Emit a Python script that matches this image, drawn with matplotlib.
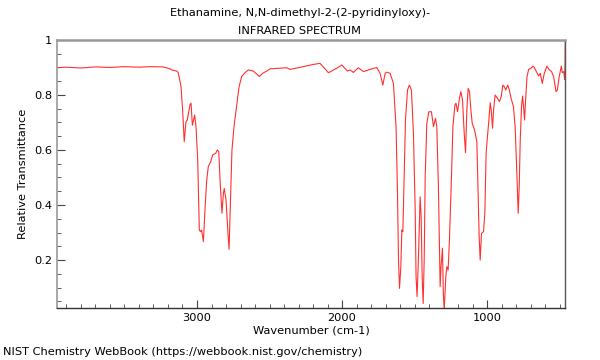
import matplotlib
matplotlib.use("Agg")
import matplotlib.pyplot as plt
import numpy as np

# spectrum (wavenumber in cm-1, relative transmittance)
wavenumber = [3965, 3900, 3800, 3700, 3600, 3500, 3400, 3324, 3232, 3186, 3174, 3140, 3129,
              3110, 3099, 3088, 3076, 3067, 3048, 3041, 3032, 3016, 3007, 2995, 2984, 2975,
              2968, 2956, 2945, 2933, 2922, 2906, 2892, 2871, 2860, 2850, 2841, 2828, 2818,
              2812, 2800, 2788, 2779, 2768, 2759, 2745, 2726, 2710, 2692, 2669, 2646, 2612,
              2588, 2570, 2547, 2519, 2497, 2440, 2381, 2359, 2320, 2267, 2198, 2152, 2094,
              2037, 2002, 1963, 1945, 1922, 1888, 1853, 1819, 1761, 1738, 1719, 1703, 1693,
              1669, 1646, 1628, 1618, 1611, 1604, 1595, 1588, 1581, 1572, 1563, 1549, 1536,
              1522, 1508, 1496, 1490, 1483, 1474, 1462, 1455, 1448, 1441, 1434, 1427, 1416,
              1402, 1384, 1370, 1356, 1347, 1336, 1324, 1318, 1308, 1302, 1296, 1285, 1278,
              1269, 1260, 1248, 1236, 1222, 1215, 1204, 1191, 1181, 1170, 1158, 1149, 1140,
              1131, 1122, 1112, 1103, 1087, 1071, 1062, 1055, 1048, 1039, 1025, 1016, 1007,
              998, 988, 979, 972, 963, 956, 945, 929, 915, 903, 892, 881, 872, 858, 847, 835,
              819, 807, 796, 786, 779, 772, 763, 756, 749, 742, 735, 725, 714, 698, 684, 675,
              661, 645, 634, 620, 606, 588, 574, 556, 542, 525, 516, 505, 495, 489, 482, 472,
              466, 463, 461]
transmittance = [0.899, 0.901, 0.898, 0.902, 0.900, 0.903, 0.901, 0.903, 0.902, 0.895, 0.891,
                 0.887, 0.881, 0.830, 0.745, 0.630, 0.703, 0.709, 0.766, 0.770, 0.690, 0.727,
                 0.685, 0.564, 0.309, 0.303, 0.309, 0.267, 0.382, 0.490, 0.540, 0.557, 0.582,
                 0.588, 0.600, 0.594, 0.490, 0.370, 0.443, 0.460, 0.418, 0.309, 0.239, 0.443,
                 0.600, 0.685, 0.764, 0.830, 0.867, 0.881, 0.891, 0.887, 0.876, 0.867, 0.879,
                 0.887, 0.895, 0.897, 0.899, 0.893, 0.897, 0.903, 0.911, 0.915, 0.881, 0.897,
                 0.909, 0.887, 0.891, 0.882, 0.899, 0.885, 0.891, 0.900, 0.879, 0.836, 0.879,
                 0.883, 0.879, 0.842, 0.685, 0.443, 0.200, 0.097, 0.176, 0.309, 0.303, 0.503,
                 0.709, 0.818, 0.836, 0.818, 0.660, 0.382, 0.139, 0.067, 0.200, 0.430, 0.357,
                 0.139, 0.042, 0.200, 0.503, 0.697, 0.739, 0.739, 0.685, 0.715, 0.685, 0.467,
                 0.103, 0.176, 0.243, 0.079, 0.020, 0.139, 0.176, 0.164, 0.273, 0.467, 0.685,
                 0.764, 0.770, 0.739, 0.788, 0.812, 0.782, 0.660, 0.590, 0.745, 0.824, 0.812,
                 0.745, 0.697, 0.673, 0.630, 0.443, 0.285, 0.200, 0.297, 0.303, 0.370, 0.588,
                 0.648, 0.709, 0.772, 0.745, 0.679, 0.745, 0.800, 0.788, 0.776, 0.794, 0.836,
                 0.830, 0.818, 0.836, 0.818, 0.788, 0.758, 0.685, 0.527, 0.370, 0.467, 0.636,
                 0.758, 0.796, 0.758, 0.709, 0.782, 0.867, 0.893, 0.897, 0.905, 0.900, 0.885,
                 0.869, 0.879, 0.842, 0.879, 0.905, 0.893, 0.885, 0.867, 0.812, 0.818, 0.861,
                 0.888, 0.905, 0.881, 0.885, 0.857, 0.909, 1.05]

title_lines = ["Ethanamine, N,N-dimethyl-2-(2-pyridinyloxy)-", "INFRARED SPECTRUM"]

fig = plt.figure(figsize=(6, 3.6), dpi=100)
ax = fig.add_axes([0.095, 0.144, 0.847, 0.745])

ax.plot(wavenumber, transmittance, color="#ff3030", linewidth=0.8)

ax.set_xlim(3965, 462)
ax.set_ylim(0.025, 1.0)
ax.set_xticks([3000, 2000, 1000])
ax.set_xticks(np.arange(3900, 400, -100), minor=True)
ax.set_yticks([0.2, 0.4, 0.6, 0.8, 1.0])
ax.set_yticklabels(["0.2", "0.4", "0.6", "0.8", "1"])
ax.set_yticks(np.arange(0.05, 1.0, 0.05), minor=True)
ax.tick_params(which="both", direction="in", labelsize=8.2, color="#444444")
ax.tick_params(which="major", length=6)
ax.tick_params(which="minor", length=3)

ax.spines["top"].set_color("#999999")
ax.spines["top"].set_linewidth(1.8)
ax.spines["left"].set_color("#999999")
ax.spines["left"].set_linewidth(1.2)
ax.spines["bottom"].set_color("#333333")
ax.spines["bottom"].set_linewidth(1.0)
ax.spines["right"].set_color("#555555")
ax.spines["right"].set_linewidth(1.0)

ax.set_xlabel("Wavenumber (cm-1)", fontsize=8.2, labelpad=2)
ax.set_ylabel("Relative Transmittance", fontsize=8.2, labelpad=4)
fig.text(0.5, 0.965, title_lines[0], ha="center", va="center", fontsize=8.2)
fig.text(0.5, 0.915, title_lines[1], ha="center", va="center", fontsize=8.2)
fig.text(0.005, 0.022, "NIST Chemistry WebBook (https://webbook.nist.gov/chemistry)",
         ha="left", va="center", fontsize=8.2)

fig.savefig("out.png", dpi=100)
